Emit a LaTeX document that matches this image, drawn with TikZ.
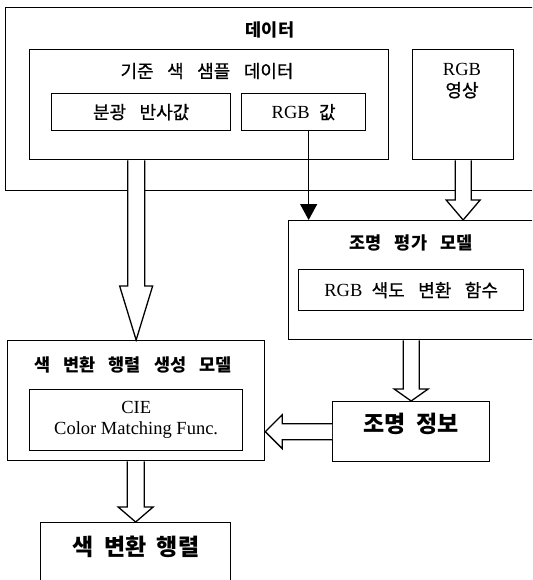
\documentclass[tikz,border=0pt]{standalone}
\usepackage{fontspec}
\setmainfont{Liberation Serif}
\newfontfamily\kr{Noto Sans CJK KR}
\newfontfamily\krm{Noto Sans CJK KR}[FakeBold=0.7]
\usetikzlibrary{calc,arrows.meta}
\newcommand\krregfont{\krm\fontsize{18}{20}\selectfont\spaceskip 0.75em\relax}
\newcommand\krttlfont{\kr\bfseries\fontsize{17.5}{19}\selectfont\spaceskip 0.75em\relax}
\newcommand\krbigfont{\kr\bfseries\fontsize{23}{25}\selectfont\spaceskip 0.45em\relax}
\newcommand\krs[1]{{\krregfont #1}}
\newcommand\hollowdn[5]{%
  \draw[hollow] ($(#1)+(-#3,0)$) -- ($(#2)+(-#3,-#5)$) -- ($(#2)+(-#4,-#5)$) -- (#2)
    -- ($(#2)+(#4,-#5)$) -- ($(#2)+(#3,-#5)$) -- ($(#1)+(#3,0)$);}
\newcommand\hollowlt[5]{%
  \draw[hollow] ($(#1)+(0,-#3)$) -- ($(#2)+(#5,-#3)$) -- ($(#2)+(#5,-#4)$) -- (#2)
    -- ($(#2)+(#5,#4)$) -- ($(#2)+(#5,#3)$) -- ($(#1)+(0,#3)$);}
\tikzset{
  box/.style={draw, line width=1.3pt, inner sep=0pt, anchor=north west, fill=white},
  lat/.style={font=\fontsize{18.5}{21}\selectfont\spaceskip 0.5em\relax, inner sep=0pt, align=center},
  krreg/.style={font=\krregfont, inner sep=0pt},
  krttl/.style={font=\krttlfont, inner sep=0pt},
  krbig/.style={font=\krbigfont, inner sep=0pt},
  hollow/.style={draw, line width=1.3pt, fill=white, line join=miter},
  thinarrow/.style={draw, line width=1.3pt, -{Triangle[length=16pt,width=17pt]}}
}
\begin{document}
\begin{tikzpicture}[x=1pt,y=-1pt]
\useasboundingbox (0,0) rectangle (532,580);
\clip (0,0) rectangle (532,580);
\fill[white] (0,0) rectangle (532,580);
% boxes
\node[box, minimum width=545pt, minimum height=183pt] (data) at (5,7) {};
\node[box, minimum width=359pt, minimum height=110pt] (sample) at (29,49) {};
\node[box, krreg, minimum width=179pt, minimum height=37pt] (spec) at (51,93) {분광 반사값};
\node[box, lat, minimum width=124pt, minimum height=37pt] (rgbval) at (241,93) {RGB \krs{값}};
\node[box, minimum width=101pt, minimum height=110pt] (rgbimg) at (412,49) {};
\node[box, minimum width=260pt, minimum height=119pt] (illum) at (288,220) {};
\node[box, lat, minimum width=225pt, minimum height=41pt] (chroma) at (298,269) {RGB \krs{색도 변환 함수}};
\node[box, minimum width=257pt, minimum height=120pt] (gen) at (7,340) {};
\node[box, lat, minimum width=213pt, minimum height=61pt] (cie) at (29,389) {CIE\\{\spaceskip 0.25em\relax Color Matching Func.}};
\node[box, minimum width=157pt, minimum height=60pt] (info) at (332,401) {};
\node[box, minimum width=190pt, minimum height=80pt] (mat) at (40,522) {};
% labels
\node[krttl] (tdata) at (270,30) {데이터};
\node[krreg] (tsample) at (207,71) {기준 색 샘플 데이터};
\node[lat] (trgbimg) at (462,81) {RGB\\\krs{영상}};
\node[krttl] (tillum) at (411,243) {조명 평가 모델};
\node[krttl] (tgen) at (133,365) {색 변환 행렬 생성 모델};
\node[krbig] (tinfo) at (411,424) {조명 정보};
\node[krbig] (tmat) at (136,547) {색 변환 행렬};
% connectors
\draw[thinarrow] ([xshift=5pt]rgbval.south) -- ([xshift=5pt]rgbval.south |- illum.north);
\hollowdn{sample.south -| gen.north}{gen.north}{8.5}{16.5}{54}
\hollowdn{rgbimg.south}{rgbimg.south |- illum.north}{8}{17}{20}
\hollowdn{info.north |- illum.south}{info.north}{8}{17}{12}
\hollowdn{mat.north |- gen.south}{mat.north}{8.5}{17.5}{15}
\hollowlt{info.west}{info.west -| gen.east}{8}{17}{17}
\end{tikzpicture}
\end{document}
